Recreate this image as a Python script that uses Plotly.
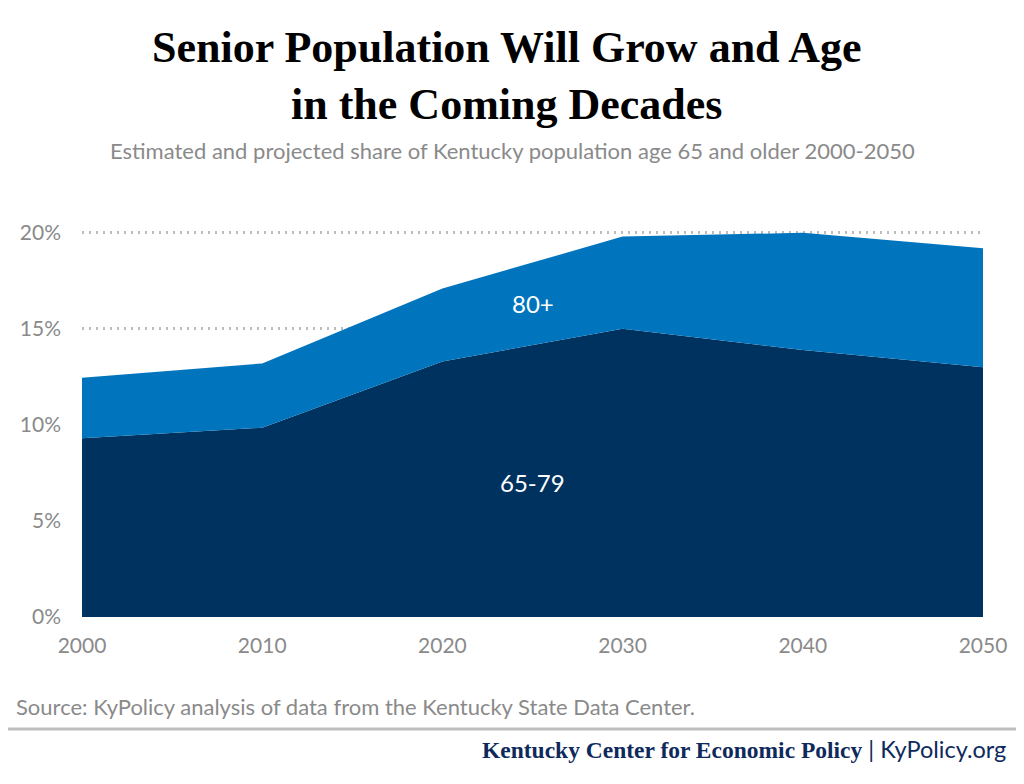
# coding: utf-8

# https://plotly.com/python
import plotly.graph_objects as go

# Chart data
years = [2000, 2010, 2020, 2030, 2040, 2050]
age_65_79 = [9.3, 9.85, 13.3, 15.0, 13.9, 13.0]
age_80_plus = [3.15, 3.35, 3.8, 4.8, 6.1, 6.2]
y_ticks = [0, 5, 10, 15, 20]
y_tick_labels = ['0%', '5%', '10%', '15%', '20%']

navy = '#00325F'
blue = '#0075BE'
gray = '#8A8A8A'
sans = 'Lato, "Open Sans", sans-serif'
serif = '"Liberation Serif", "DejaVu Serif", serif'

fig = go.Figure()

# Stacked areas
fig.add_trace(
    go.Scatter(
        x=years,
        y=age_65_79,
        mode='lines',
        name='65-79',
        stackgroup='one',
        line=dict(width=0, color=navy),
        fillcolor=navy))
fig.add_trace(
    go.Scatter(
        x=years,
        y=age_80_plus,
        mode='lines',
        name='80+',
        stackgroup='one',
        line=dict(width=0, color=blue),
        fillcolor=blue))

# Area labels
fig.add_annotation(x=2025.0, y=7.0, text='65-79', showarrow=False,
                   font=dict(family=sans, size=24, color='white'))
fig.add_annotation(x=2025.0, y=16.3, text='80+', showarrow=False,
                   font=dict(family=sans, size=24, color='white'))

# Title and subtitle
fig.add_annotation(xref='paper', yref='paper', x=0.4707, y=1.0, yanchor='middle',
                   yshift=151,
                   text='<b>Senior Population Will Grow and Age<br>in the Coming Decades</b>',
                   showarrow=False, align='center',
                   font=dict(family=serif, size=44, color='black'))
fig.add_annotation(xref='paper', yref='paper', x=0.478, y=1.0, yanchor='middle',
                   yshift=77,
                   text='Estimated and projected share of Kentucky population age 65 and older 2000-2050',
                   showarrow=False,
                   font=dict(family=sans, size=22, color=gray))

# Source and footer
fig.add_annotation(xref='paper', yref='paper', x=-0.0752, y=0, xanchor='left',
                   yanchor='middle', yshift=-89,
                   text='Source: KyPolicy analysis of data from the Kentucky State Data Center.',
                   showarrow=False,
                   font=dict(family=sans, size=22, color=gray))
fig.add_shape(type='line', xref='paper', yref='paper', x0=-0.1, x1=1.1,
              y0=-0.287, y1=-0.287, line=dict(color='#BDBDBD', width=3))
fig.add_annotation(xref='paper', yref='paper', x=1.028, y=0, xanchor='right',
                   yanchor='middle', yshift=-132,
                   text=('<b><span style="font-family:' + serif.replace('"', "'") +
                         '">Kentucky Center for Economic Policy</span></b> | KyPolicy.org'),
                   showarrow=False,
                   font=dict(family=sans, size=23.5, color='#0E2A5C'))

# The page body adds an 8px offset, so margins are trimmed to match
fig.update_layout(
    width=1024,
    height=784,
    margin=dict(l=72, r=49, t=219, b=175),
    showlegend=False,
    paper_bgcolor='white',
    plot_bgcolor='white',
    font=dict(family=sans, color=gray),
    hovermode=False,
    xaxis=dict(
        range=[2000, 2050],
        tickvals=years,
        showgrid=False,
        zeroline=False,
        showline=False,
        ticks='',
        ticklabelstandoff=14,
        tickfont=dict(family=sans, size=21, color=gray),
    ),
    yaxis=dict(
        range=[0, 20.3],
        tickvals=y_ticks,
        ticktext=y_tick_labels,
        showgrid=True,
        gridcolor='#BDBDBD',
        gridwidth=2.5,
        griddash='2px,5px',
        zeroline=False,
        showline=False,
        ticks='',
        ticklabelstandoff=20,
        tickfont=dict(family=sans, size=21, color=gray),
    ),
)

fig.write_html('out.html')
